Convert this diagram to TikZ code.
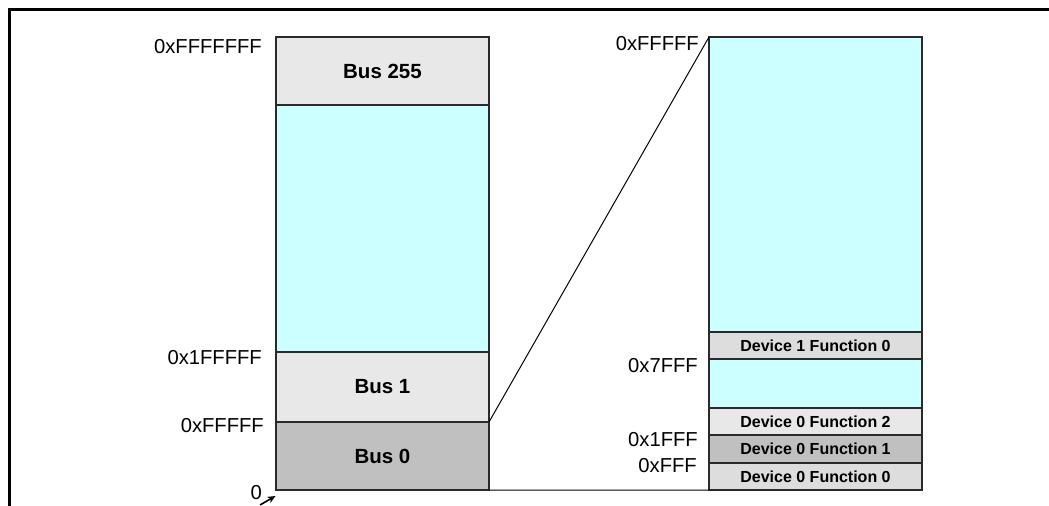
\documentclass[tikz,border=0pt]{standalone}
\usepackage{fontspec}
\setmainfont{Liberation Sans}
\usetikzlibrary{arrows.meta}
\definecolor{cyanfill}{HTML}{CCFFFF}
\definecolor{lightfill}{HTML}{E8E8E8}
\definecolor{midfill}{HTML}{DDDDDD}
\definecolor{darkfill}{HTML}{C0C0C0}
\definecolor{edge}{HTML}{2A2A2A}
\begin{document}
\begin{tikzpicture}[x=1bp,y=-1bp,
  region/.style={draw=edge, line width=1.1bp, inner sep=0pt, outer sep=0pt, anchor=north west, minimum width=213bp},
  busbox/.style={region, font=\fontsize{20.5bp}{23bp}\selectfont\bfseries},
  devbox/.style={region, font=\fontsize{16bp}{18bp}\selectfont\bfseries},
  addr/.style={inner sep=0pt, anchor=east, font=\fontsize{20.2bp}{23bp}\selectfont},
  link/.style={draw=black, line width=1bp}]
\useasboundingbox (0,0) rectangle (1049,506);
% frame
\draw[line width=3bp] (9.5,506) -- (9.5,9.5) -- (1049,9.5);
% left column
\node[busbox, fill=lightfill, minimum height=68bp] (bus255) at (276,37) {Bus 255};
\node[region, fill=cyanfill, minimum height=247bp] (busgap) at (276,105) {};
\node[busbox, fill=lightfill, minimum height=70bp] (bus1) at (276,352) {Bus 1};
\node[busbox, fill=darkfill, minimum height=68bp] (bus0) at (276,422) {Bus 0};
% right column
\node[region, fill=cyanfill, minimum height=295bp] (topgap) at (709,37) {};
\node[devbox, fill=midfill, minimum height=27bp] (d1f0) at (709,332) {Device 1 Function 0};
\node[region, fill=cyanfill, minimum height=49bp] (midgap) at (709,359) {};
\node[devbox, fill=lightfill, minimum height=27bp] (d0f2) at (709,408) {Device 0 Function 2};
\node[devbox, fill=darkfill, minimum height=28bp] (d0f1) at (709,435) {Device 0 Function 1};
\node[devbox, fill=midfill, minimum height=27bp] (d0f0) at (709,463) {Device 0 Function 0};
% connectors
\draw[link] (bus0.north east) -- (topgap.north west);
\draw[link] (bus0.south east) -- (d0f0.south west);
% left addresses
\node[addr] (a1) at (262,46.5) {0xFFFFFFF};
\node[addr] (a2) at (262,358) {0x1FFFFF};
\node[addr] (a3) at (264,426) {0xFFFFF};
\node[addr] (a4) at (262,493) {0};
% right addresses
\node[addr] (b1) at (699,44) {0xFFFFF};
\node[addr] (b2) at (698,366) {0x7FFF};
\node[addr] (b3) at (698,440) {0x1FFF};
\node[addr] (b4) at (697,466) {0xFFF};
% small arrow to origin
\coordinate (arrtail) at (260,505);
\coordinate (arrtip) at (275.5,496);
\draw[line width=1.6bp, -{Stealth[length=8bp,width=7bp]}] (arrtail) -- (arrtip);
\end{tikzpicture}
\end{document}
